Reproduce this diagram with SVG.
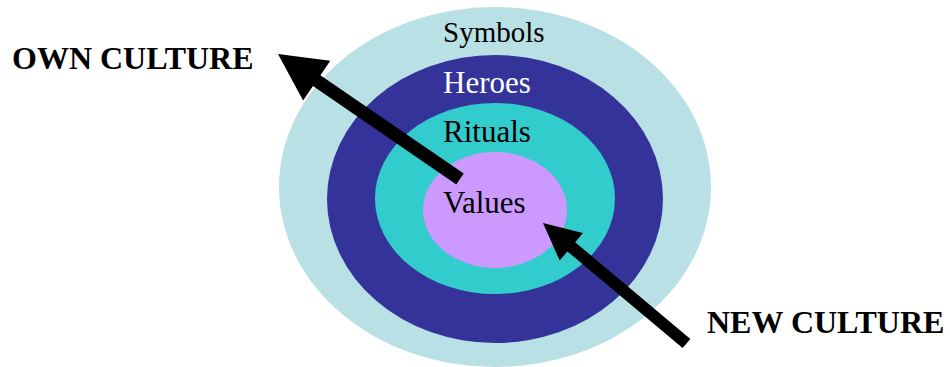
<svg xmlns="http://www.w3.org/2000/svg" width="950" height="367" viewBox="0 0 950 367">
<style>
.lbl{font-family:"Liberation Serif",serif;font-size:31px;fill:#000}
.big{font-family:"Liberation Serif",serif;font-size:32px;font-weight:bold;fill:#000}
.arrow{fill:#000}
</style>
<rect width="950" height="367" fill="#fff"/>
<g id="symbols">
<ellipse cx="495" cy="187" rx="216" ry="180" fill="#B9E0E4"/>
<text class="lbl" x="443" y="42" style="font-size:29px">Symbols</text>
</g>
<g id="heroes">
<ellipse cx="495" cy="199" rx="168" ry="144" fill="#333399"/>
<text class="lbl" x="443" y="93" style="fill:#fff">Heroes</text>
</g>
<g id="rituals">
<ellipse cx="495" cy="198.5" rx="120" ry="95.5" fill="#33CCCC"/>
<text class="lbl" x="443" y="142">Rituals</text>
</g>
<g id="values">
<ellipse cx="495" cy="210" rx="72" ry="58" fill="#CC99FF"/>
<text class="lbl" x="443" y="213">Values</text>
</g>
<g id="own-culture">
<text class="big" x="12" y="69">OWN CULTURE</text>
</g>
<g id="new-culture">
<text class="big" x="707" y="333">NEW CULTURE</text>
</g>
<g id="connectors">
<polygon class="arrow" points="463.7,173.6 320.4,75.2 330.3,60.8 278,54 303.1,100.4 313,86 456.3,184.4"/>
<polygon class="arrow" points="690.4,338.9 575.2,242.2 582.9,233 543,223 559.7,260.6 567.4,251.4 682.6,348.1"/>
</g>
</svg>
